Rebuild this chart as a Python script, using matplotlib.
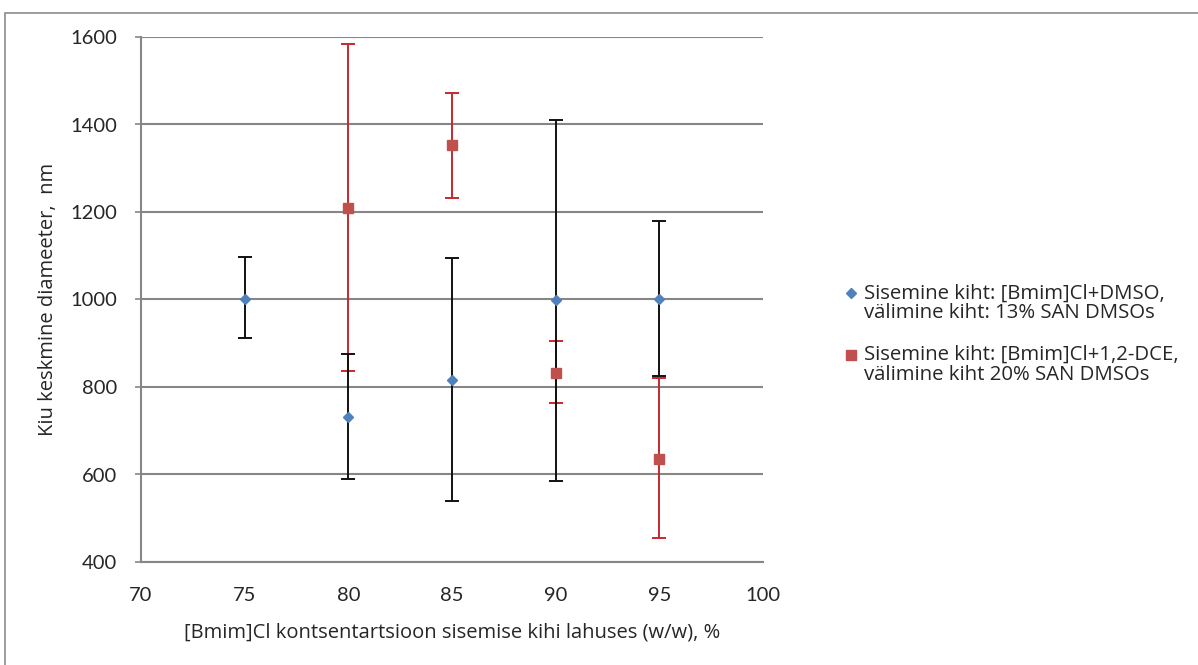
import matplotlib
matplotlib.use("Agg")
import matplotlib.pyplot as plt
from matplotlib.patches import Rectangle
from matplotlib.lines import Line2D
from matplotlib.legend_handler import HandlerLine2D
import numpy as np

plt.rcParams['font.family'] = ['Open Sans', 'DejaVu Sans']

# Data
x_blue = [75, 80, 85, 90, 95]
y_blue = [1000, 732, 815, 998, 1002]
hi_blue = [1097, 876, 1094, 1410, 1179]
lo_blue = [913, 590, 540, 585, 826]

x_red = [80, 85, 90, 95]
y_red = [1210, 1352, 831, 636]
hi_red = [1584, 1472, 904, 821]
lo_red = [836, 1231, 763, 455]

label_blue = "Sisemine kiht: [Bmim]Cl+DMSO,\nvälimine kiht: 13% SAN DMSOs"
label_red = "Sisemine kiht: [Bmim]Cl+1,2-DCE,\nvälimine kiht 20% SAN DMSOs"
xlabel = "[Bmim]Cl kontsentartsioon sisemise kihi lahuses (w/w), %"
ylabel = "Kiu keskmine diameeter,  nm"
xticks = [70, 75, 80, 85, 90, 95, 100]
yticks = [400, 600, 800, 1000, 1200, 1400, 1600]


class FirstLineHandler(HandlerLine2D):
    """Place the legend marker next to the first line of a two-line label."""
    def create_artists(self, legend, orig_handle, xdescent, ydescent,
                       width, height, fontsize, trans):
        shift = 0.5 * fontsize
        return super().create_artists(legend, orig_handle, xdescent,
                                      ydescent - 2 * shift, width, height,
                                      fontsize, trans)


W, H = 1198, 665
fig = plt.figure(figsize=(W / 100, H / 100), dpi=100)
ax = fig.add_axes([141 / W, 1 - 562 / H, (763 - 141) / W, (562 - 37) / H])

yb = np.array(y_blue); yr = np.array(y_red)
err_blue = [yb - np.array(lo_blue), np.array(hi_blue) - yb]
err_red = [yr - np.array(lo_red), np.array(hi_red) - yr]

ax.errorbar(x_red, y_red, yerr=err_red, fmt='none', ecolor='#C8282E',
            elinewidth=1.4, capsize=5, capthick=1.4, zorder=3)
ax.errorbar(x_blue, y_blue, yerr=err_blue, fmt='none', ecolor='#111111',
            elinewidth=1.4, capsize=5, capthick=1.4, zorder=4)
ax.plot(x_red, y_red, linestyle='none', marker='s', markersize=7,
        color='#C0504D', label=label_red, zorder=5)
ax.plot(x_blue, y_blue, linestyle='none', marker='D', markersize=5,
        color='#4F81BD', label=label_blue, zorder=6)

ax.set_xlim(70, 100)
ax.set_ylim(400, 1600)
ax.set_xticks(xticks)
ax.set_yticks(yticks)
for lab in ax.get_xticklabels() + ax.get_yticklabels():
    lab.set_fontfamily(['Lato', 'DejaVu Sans'])
ax.tick_params(axis='both', labelsize=14.5, colors='#404040', labelcolor='#262626')
ax.tick_params(axis='x', length=0, pad=18)
ax.tick_params(axis='y', length=4, width=1.2, color='#868686', pad=13)
ax.yaxis.grid(True, color='#868686', linewidth=1.5)
ax.set_axisbelow(True)
for s in ['top', 'right']:
    ax.spines[s].set_visible(False)
for s in ['left', 'bottom']:
    ax.spines[s].set_color('#868686')
    ax.spines[s].set_linewidth(1.5)

ax.set_xlabel(xlabel, fontsize=14.5, color='#262626', labelpad=13)
ax.set_ylabel(ylabel, fontsize=14.5, color='#262626', labelpad=9)

handles, labels = ax.get_legend_handles_labels()
order = [1, 0]
leg = fig.legend([handles[i] for i in order], [labels[i] for i in order],
                 loc='center left', bbox_to_anchor=(846 / W, 1 - 334 / H),
                 frameon=False, fontsize=14.7, handlelength=0.5,
                 handletextpad=0.4, labelspacing=1.05, labelcolor='#262626',
                 borderpad=0, borderaxespad=0,
                 handler_map={Line2D: FirstLineHandler()})
for t in leg.get_texts():
    t.set_linespacing(1.0)

fig.add_artist(Rectangle((5 / W, -0.05), 1.1, 1.05 - 13 / H,
                         transform=fig.transFigure, fill=False,
                         edgecolor='#8c8c8c', linewidth=1.2))

fig.savefig("out.png", dpi=100)
